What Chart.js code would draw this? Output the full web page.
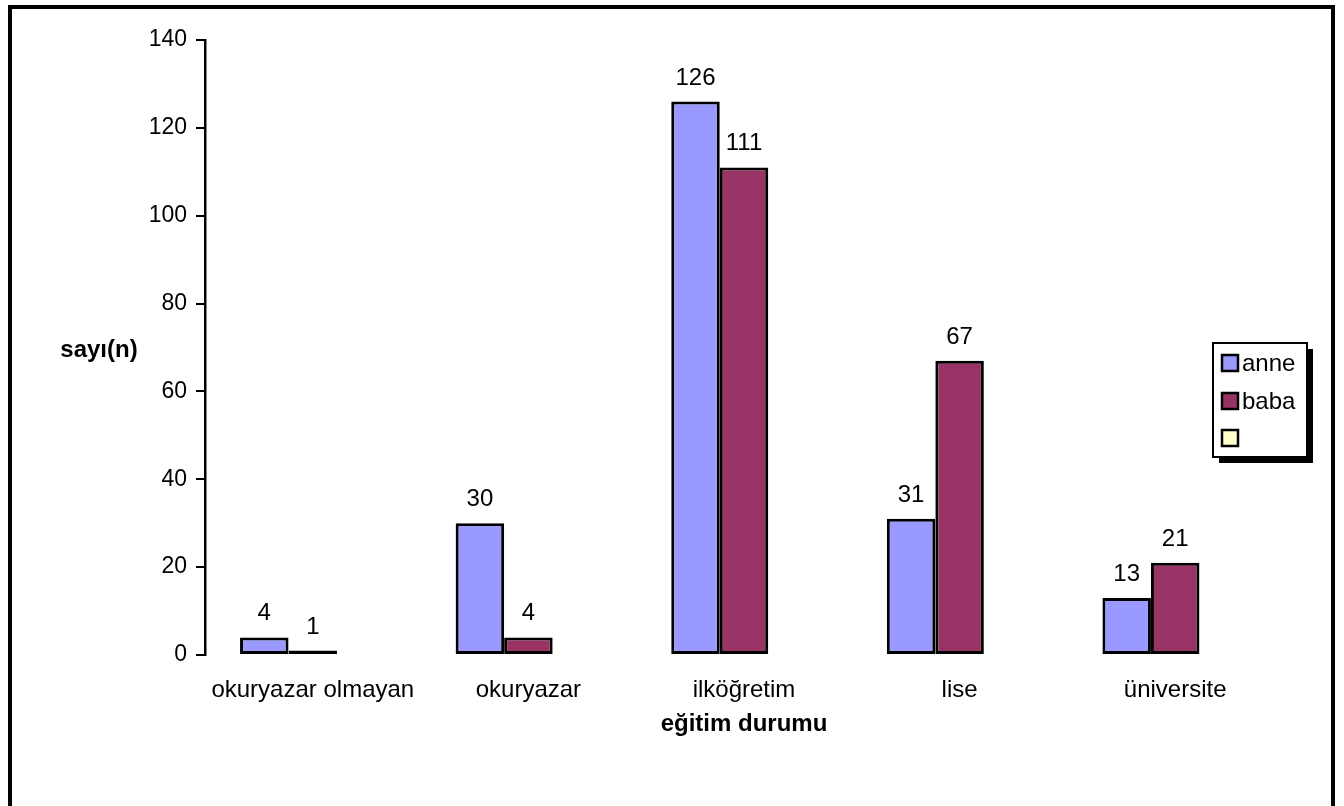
<!DOCTYPE html>
<html>
<head>
<meta charset="utf-8">
<script src="https://cdn.jsdelivr.net/npm/chart.js@4/dist/chart.umd.min.js"></script>
<style>
  html, body { margin: 0; padding: 0; background: #fff; }
  canvas { display: block; }
</style>
</head>
<body>
<canvas id="c" width="1344" height="806"></canvas>
<script>
// Eğitim durumu: anne / baba dağılımı
const categories = ['okuryazar olmayan', 'okuryazar', 'ilköğretim', 'lise', 'üniversite'];
const anne = [4, 30, 126, 31, 13];
const baba = [1, 4, 111, 67, 21];
const bos = [null, null, null, null, null];
const seriesNames = ['anne', 'baba', ''];
const seriesColors = ['#9999FF', '#993366', '#FFFFCC'];
const yTicks = [0, 20, 40, 60, 80, 100, 120, 140];
const yTitle = 'sayı(n)';
const xTitle = 'eğitim durumu';

const FONT = 'Liberation Sans, Arial, sans-serif';
const labelFont = { family: FONT, size: 24 };
const tickFont = { family: FONT, size: 23 };

// Çerçeve, eksen başlıkları, değer etiketleri ve lejant
const decor = {
  id: 'decor',
  beforeDraw(chart) {
    const ctx = chart.ctx;
    ctx.save();
    ctx.fillStyle = '#fff';
    ctx.fillRect(0, 0, chart.width, chart.height);
    ctx.strokeStyle = '#000';
    ctx.lineWidth = 4;
    ctx.strokeRect(10, 7, 1323, 830);
    ctx.restore();
  },
  afterDraw(chart) {
    const ctx = chart.ctx;
    const area = chart.chartArea;
    ctx.save();
    ctx.fillStyle = '#000';

    // değer etiketleri
    ctx.font = '24px ' + FONT;
    ctx.textAlign = 'center';
    ctx.textBaseline = 'alphabetic';
    chart.data.datasets.forEach((ds, i) => {
      const meta = chart.getDatasetMeta(i);
      meta.data.forEach((bar, j) => {
        const v = ds.data[j];
        if (v === null || v === undefined) return;
        ctx.fillText(String(v), bar.x, bar.y - 17);
      });
    });

    // eksen başlıkları
    ctx.font = 'bold 24px ' + FONT;
    ctx.textBaseline = 'middle';
    ctx.fillText(yTitle, 99, 350);
    ctx.fillText(xTitle, (area.left + area.right) / 2, 724);

    // lejant
    const lx = 1213, ly = 343, lw = 94, lh = 114;
    ctx.fillStyle = '#000';
    ctx.fillRect(lx + 6, ly + 6, lw, lh);
    ctx.fillStyle = '#fff';
    ctx.fillRect(lx, ly, lw, lh);
    ctx.strokeStyle = '#000';
    ctx.lineWidth = 2;
    ctx.strokeRect(lx, ly, lw, lh);
    const rows = [363, 401, 438];
    ctx.font = '24px ' + FONT;
    ctx.textAlign = 'left';
    chart.data.datasets.forEach((ds, i) => {
      const cy = rows[i];
      ctx.fillStyle = ds.backgroundColor;
      ctx.fillRect(1222, cy - 8, 16, 16);
      ctx.strokeStyle = '#000';
      ctx.lineWidth = 2.5;
      ctx.strokeRect(1222, cy - 8, 16, 16);
      ctx.fillStyle = '#000';
      ctx.fillText(ds.label, 1242, cy + 1);
    });
    ctx.restore();
  }
};

const datasets = [anne, baba, bos].map((d, i) => ({
  label: seriesNames[i],
  data: d,
  backgroundColor: seriesColors[i],
  borderColor: '#000',
  borderWidth: 3,
  borderSkipped: false,
  categoryPercentage: 0.675,
  barPercentage: 1.0
}));

new Chart(document.getElementById('c'), {
  type: 'bar',
  data: { labels: categories, datasets },
  options: {
    responsive: false,
    animation: false,
    layout: { padding: { left: 0, top: 40, right: 61, bottom: 0 } },
    plugins: { legend: { display: false }, tooltip: { enabled: false } },
    scales: {
      x: {
        grid: { display: false },
        border: { display: false },
        ticks: { font: labelFont, color: '#000', padding: 13, maxRotation: 0, autoSkip: false },
        afterFit(s) { s.height = 151; }
      },
      y: {
        min: 0,
        max: 140,
        afterBuildTicks(s) { s.ticks = yTicks.map(v => ({ value: v })); },
        ticks: { font: tickFont, color: '#000', padding: 9 },
        grid: { drawOnChartArea: false, drawTicks: true, tickLength: 9, color: '#000', lineWidth: 2 },
        border: { display: true, color: '#000', width: 2.5 },
        afterFit(s) { s.width = 205; }
      }
    }
  },
  plugins: [decor]
});
</script>
</body>
</html>
